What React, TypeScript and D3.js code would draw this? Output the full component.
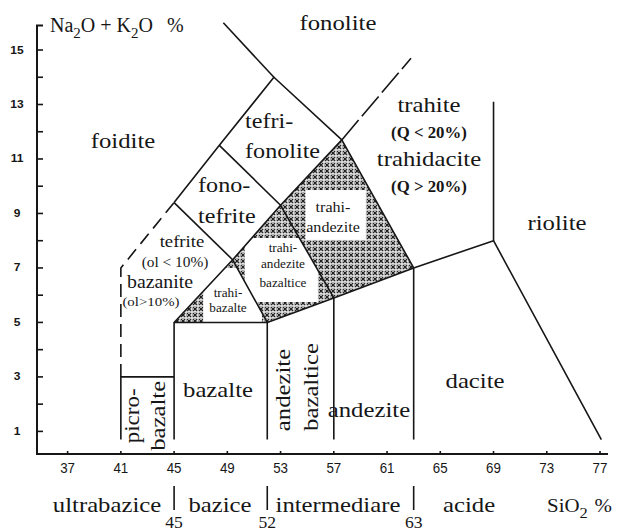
import React from "react";
import * as d3 from "d3";

type Pt = [number, number];

// Axis ticks (SiO2 % on x, Na2O + K2O % on y)
const silicaTicks = [37, 41, 45, 49, 53, 57, 61, 65, 69, 73, 77];
const alkaliTicks = [1, 3, 5, 7, 9, 11, 13, 15];
const alkaliMinorTicks = [1, 2, 3, 4, 5, 6, 7, 8, 9, 10, 11, 12, 13, 14, 15];

// Silica groups along the bottom
const groupBounds = [45, 52, 63];

// Field boundaries of the TAS classification, as [SiO2 %, Na2O + K2O %]
const solidEdges: Pt[][] = [
  [[41, 0.7], [41, 3], [45, 3]],
  [[45, 0.7], [45, 5], [52, 5], [52, 0.7]],
  [[57, 0.7], [57, 5.9]],
  [[63, 0.7], [63, 7]],
  [[52, 5], [57, 5.9], [63, 7], [69, 8], [77.1, 0.7]],
  [[69, 8], [69, 13.1]],
  [[45, 5], [49.4, 7.3], [52, 5]],
  [[49.4, 7.3], [53, 9.3], [57, 5.9]],
  [[53, 9.3], [57.6, 11.7], [63, 7]],
  [[45, 9.4], [49.4, 7.3]],
  [[48.4, 11.5], [53, 9.3]],
  [[45, 9.4], [48.4, 11.5], [52.5, 14], [57.6, 11.7]],
  [[52.5, 14], [48.7, 16]],
];
const basaniteEdge: Pt[] = [[41, 3], [41, 7], [45, 9.4]];
const trachyteEdge: Pt[] = [[57.6, 11.7], [62.8, 14.7]];

// Shaded (trachy-) fields and the clear areas left for their names
const trachybasaltField: Pt[] = [[45, 5], [49.4, 7.3], [52, 5]];
const basTrachyandesiteField: Pt[] = [[49.4, 7.3], [53, 9.3], [57, 5.9], [52, 5]];
const trachyandesiteField: Pt[] = [[53, 9.3], [57.6, 11.7], [63, 7], [57, 5.9]];
const trachybasaltClear: Pt[] = [[47.2, 4.8], [51.6, 7.0]];
const basTrachyandesiteClear: Pt[] = [[50.3, 5.75], [55.8, 8.1]];
const trachyandesiteClear: Pt[] = [[54.9, 8.03], [59.4, 9.86]];

export default function App() {
  const W = 622;
  const H = 532;
  const x = d3.scaleLinear().domain([34.7, 77.6]).range([37, 608]);
  const y = d3.scaleLinear().domain([0.17, 15.9]).range([454, 25.5]);
  const line = d3.line<Pt>().x((d) => x(d[0])).y((d) => y(d[1]));
  const poly = (pts: Pt[]) => (line(pts) as string) + "Z";

  const serif = "'Liberation Serif', 'Times New Roman', serif";
  const sans = "'Liberation Sans', Arial, sans-serif";
  const ink = "#161616";

  const Label = ({
    si,
    alk,
    children,
    size,
    sx = 1.15,
    anchor = "middle",
    weight = "normal",
    rot = 0,
  }: {
    si: number;
    alk: number;
    children: React.ReactNode;
    size: number;
    sx?: number;
    anchor?: string;
    weight?: string;
    rot?: number;
  }) => (
    <text
      transform={`translate(${x(si)},${y(alk)}) rotate(${rot}) scale(${sx},1)`}
      textAnchor={anchor}
      fontSize={size}
      fontWeight={weight}
      fontFamily={serif}
      fill={ink}
      dy={rot ? "0.35em" : undefined}
    >
      {children}
    </text>
  );

  const clearRect = (r: Pt[]) => (
    <rect
      x={x(r[0][0])}
      y={y(r[1][1])}
      width={x(r[1][0]) - x(r[0][0])}
      height={y(r[0][1]) - y(r[1][1])}
      fill="#fff"
    />
  );

  const shaded: [string, Pt[], Pt[]][] = [
    ["tb", trachybasaltField, trachybasaltClear],
    ["bta", basTrachyandesiteField, basTrachyandesiteClear],
    ["ta", trachyandesiteField, trachyandesiteClear],
  ];

  const axisBottom = y.range()[0];
  const axisLeft = x.range()[0];

  return (
    <svg
      width={W}
      height={H}
      viewBox={`0 0 ${W} ${H}`}
      style={{ position: "absolute", left: 0, top: 0, background: "#fff" }}
    >
      <defs>
        <pattern id="hatch" width="6" height="6" patternUnits="userSpaceOnUse">
          <rect width="6" height="6" fill="#e4e4e4" />
          <path d="M0,3H6M3,0V6" stroke="#555" strokeWidth="0.8" strokeDasharray="1 1" />
          <path d="M0.8,0.8L5.2,5.2M5.2,0.8L0.8,5.2" stroke="#1a1a1a" strokeWidth="1.1" />
        </pattern>
        {shaded.map(([id, pts]) => (
          <clipPath id={`clip-${id}`} key={id}>
            <path d={poly(pts)} />
          </clipPath>
        ))}
      </defs>

      {/* shaded trachy- fields */}
      {shaded.map(([id, pts, clear]) => (
        <g key={id} clipPath={`url(#clip-${id})`}>
          <path d={poly(pts)} fill="url(#hatch)" />
          {clearRect(clear)}
        </g>
      ))}

      {/* field boundaries */}
      <g fill="none" stroke={ink} strokeWidth={1.6} strokeLinejoin="round">
        {solidEdges.map((e, i) => (
          <path key={i} d={line(e) as string} />
        ))}
        <path d={line(basaniteEdge) as string} strokeDasharray="13 7" />
        <path d={line(trachyteEdge) as string} strokeDasharray="26 5" />
      </g>

      {/* axes */}
      <g stroke={ink} strokeWidth={2} fill="none">
        <path d={`M${axisLeft + 6},${y.range()[1]}H${axisLeft}V${axisBottom}H${x.range()[1]}`} />
      </g>
      <g stroke={ink} strokeWidth={1.6}>
        {alkaliMinorTicks.map((v) => (
          <line key={v} x1={axisLeft} x2={axisLeft + 6} y1={y(v)} y2={y(v)} />
        ))}
        {silicaTicks.map((v) => (
          <line key={v} x1={x(v)} x2={x(v)} y1={axisBottom} y2={axisBottom - 3} />
        ))}
      </g>
      <g fontFamily={sans} fill={ink}>
        {alkaliTicks.map((v) => (
          <text
            key={v}
            transform={`translate(17,${y(v) + 3.5}) scale(1.2,1)`}
            textAnchor="middle"
            fontSize={10}
            fontWeight="bold"
          >
            {v}
          </text>
        ))}
        {silicaTicks.map((v) => (
          <text
            key={v}
            transform={`translate(${x(v)},473) scale(0.92,1)`}
            textAnchor="middle"
            fontSize={14.5}
          >
            {v}
          </text>
        ))}
      </g>

      {/* axis titles */}
      <text x={50} y={32} fontFamily={serif} fontSize={20} fill={ink}>
        Na
        <tspan dy={6} fontSize={15}>2</tspan>
        <tspan dy={-6}>O + K</tspan>
        <tspan dy={6} fontSize={15}>2</tspan>
        <tspan dy={-6}>O</tspan>
        <tspan dx={14}>%</tspan>
      </text>
      <text transform={`translate(${x(73.02)},512) scale(1.1,1)`} fontFamily={serif} fontSize={19} fill={ink}>
        SiO
        <tspan dy={6} fontSize={15}>2</tspan>
        <tspan dy={-6} dx={6}>%</tspan>
      </text>

      {/* field names */}
      <Label si={57.31} alk={15.74} size={21.5}>fonolite</Label>
      <Label si={41.16} alk={11.4} size={21.5}>foidite</Label>
      <Label si={50.33} alk={12.14} size={21} anchor="start">tefri-</Label>
      <Label si={50.33} alk={11.04} size={21} anchor="start">fonolite</Label>
      <Label si={46.8} alk={9.79} size={21} anchor="start">fono-</Label>
      <Label si={46.8} alk={8.65} size={21} anchor="start">tefrite</Label>
      <Label si={56.94} alk={9.05} size={14}>trahi-</Label>
      <Label si={56.94} alk={8.32} size={14}>andezite</Label>
      <Label si={53.18} alk={7.59} size={11.5}>trahi-</Label>
      <Label si={53.18} alk={7.0} size={11.5}>andezite</Label>
      <Label si={53.18} alk={6.3} size={11.5}>bazaltice</Label>
      <Label si={49.05} alk={5.93} size={11.5}>trahi-</Label>
      <Label si={49.05} alk={5.38} size={11.5}>bazalte</Label>
      <Label si={45.59} alk={7.77} size={17} sx={1.1}>tefrite</Label>
      <Label si={45.07} alk={7.03} size={14} sx={1.1}>(ol &lt; 10%)</Label>
      <Label si={43.94} alk={6.26} size={18} sx={1.1}>bazanite</Label>
      <Label si={43.26} alk={5.6} size={13.5} sx={1.1}>(ol&gt;10%)</Label>
      <Label si={64.15} alk={12.73} size={21.5}>trahite</Label>
      <Label si={64.15} alk={11.77} size={16} weight="bold" sx={1.05}>(Q &lt; 20%)</Label>
      <Label si={64.15} alk={10.74} size={21.5}>trahidacite</Label>
      <Label si={64.15} alk={9.79} size={16} weight="bold" sx={1.05}>(Q &gt; 20%)</Label>
      <Label si={73.77} alk={8.39} size={21.5}>riolite</Label>
      <Label si={67.61} alk={2.59} size={21.5}>dacite</Label>
      <Label si={59.64} alk={1.53} size={21.5}>andezite</Label>
      <Label si={48.3} alk={2.26} size={21.5}>bazalte</Label>
      <Label si={41.84} alk={1.57} size={20} rot={-90}>picro-</Label>
      <Label si={43.72} alk={1.57} size={21.5} rot={-90}>bazalte</Label>
      <Label si={53.11} alk={2.52} size={21.5} rot={-90}>andezite</Label>
      <Label si={55.21} alk={2.63} size={21.5} rot={-90}>bazaltice</Label>

      {/* silica groups */}
      <g fontFamily={serif} fontSize={21.5} fill={ink} textAnchor="middle">
        <text transform={`translate(${x(39.96)},512) scale(1.15,1)`}>ultrabazice</text>
        <text transform={`translate(${x(48.45)},512) scale(1.15,1)`}>bazice</text>
        <text transform={`translate(${x(57.31)},512) scale(1.15,1)`}>intermediare</text>
        <text transform={`translate(${x(67.16)},512) scale(1.15,1)`}>acide</text>
        {groupBounds.map((v) => (
          <g key={v}>
            <line x1={x(v)} x2={x(v)} y1={486} y2={510} stroke={ink} strokeWidth={1.6} />
            <text transform={`translate(${x(v)},528) scale(1.1,1)`} fontSize={16}>
              {v}
            </text>
          </g>
        ))}
      </g>
    </svg>
  );
}
